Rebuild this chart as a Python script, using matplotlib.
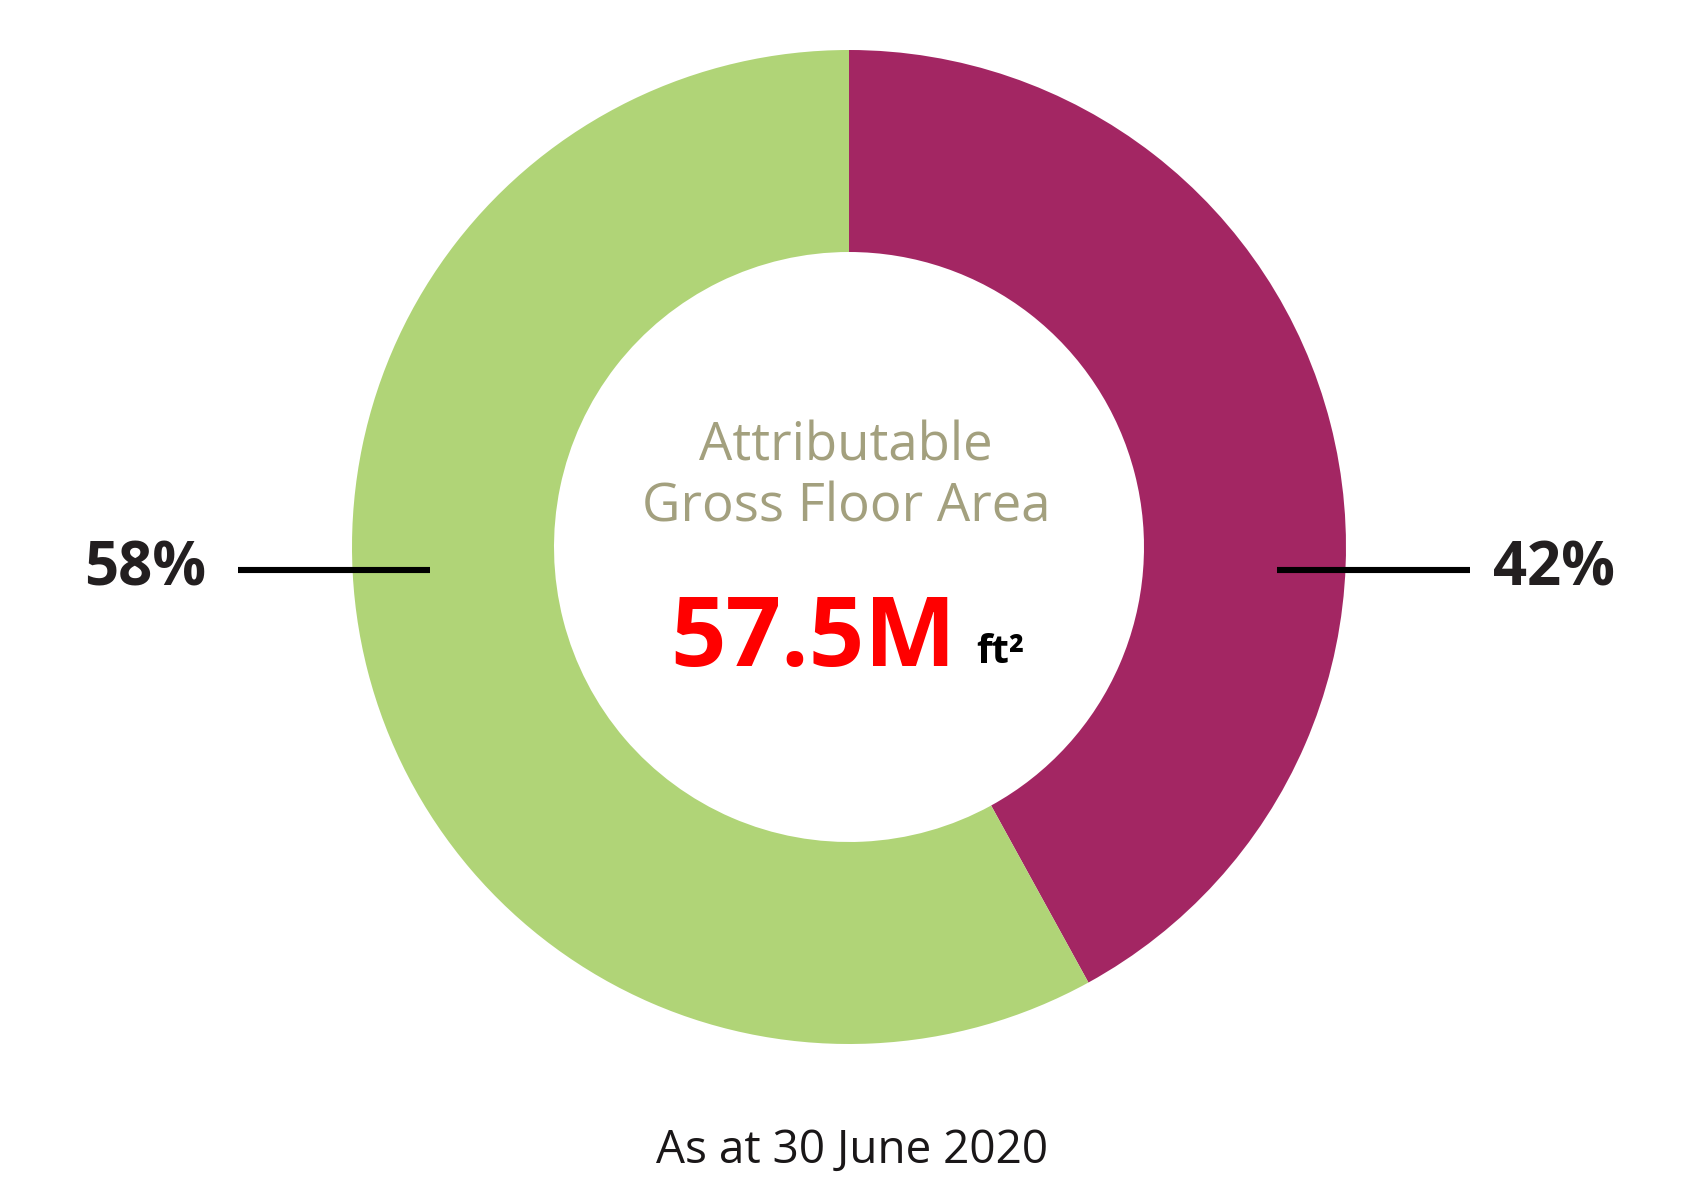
import matplotlib
matplotlib.use("Agg")
import matplotlib.pyplot as plt

labels = ["42%", "58%"]
values = [42, 58]
colors = ["#A32663", "#B0D477"]
title_lines = ["Attributable", "Gross Floor Area"]
total_value = "57.5M"
total_unit = "ft²"
footnote = "As at 30 June 2020"

W, H = 1700, 1200
fig = plt.figure(figsize=(17, 12), dpi=100)
ax = fig.add_axes([0, 0, 1, 1])

cx, cy = 849, H - 547
R = 497
ring = 202

ax.pie(values, colors=colors, startangle=90, counterclock=False,
       center=(cx, cy), radius=R, frame=True,
       wedgeprops=dict(width=ring, linewidth=0))
ax.set_xlim(0, W)
ax.set_ylim(0, H)
ax.set_aspect("equal")
ax.axis("off")

font = "Open Sans"
dark = "#231F20"

# leader lines
ly = H - 570
ax.plot([238, 430], [ly, ly], color="black", lw=4.4, solid_capstyle="butt", zorder=5)
ax.plot([1277, 1470], [ly, ly], color="black", lw=4.4, solid_capstyle="butt", zorder=5)

ax.text(145, ly, labels[1], ha="center", va="center", fontsize=43,
        fontweight="bold", color=dark, family=font)
ax.text(1554, ly, labels[0], ha="center", va="center", fontsize=43,
        fontweight="bold", color=dark, family=font)

ax.text(846, H - 447, title_lines[0], ha="center", va="center", fontsize=38,
        color="#A3A07E", family=font)
ax.text(846, H - 508, title_lines[1], ha="center", va="center", fontsize=38,
        color="#A3A07E", family=font)

ax.text(813, H - 666, total_value, ha="center", va="baseline", fontsize=70,
        fontweight="bold", color="#FF0000", family=font)
ax.text(1000, H - 663, total_unit, ha="center", va="baseline", fontsize=29,
        fontweight="bold", color="black", family=font)

ax.text(852, H - 1151, footnote, ha="center", va="center", fontsize=33,
        color="#1A1718", family=font)

fig.savefig("out.png", dpi=100, facecolor="white")
